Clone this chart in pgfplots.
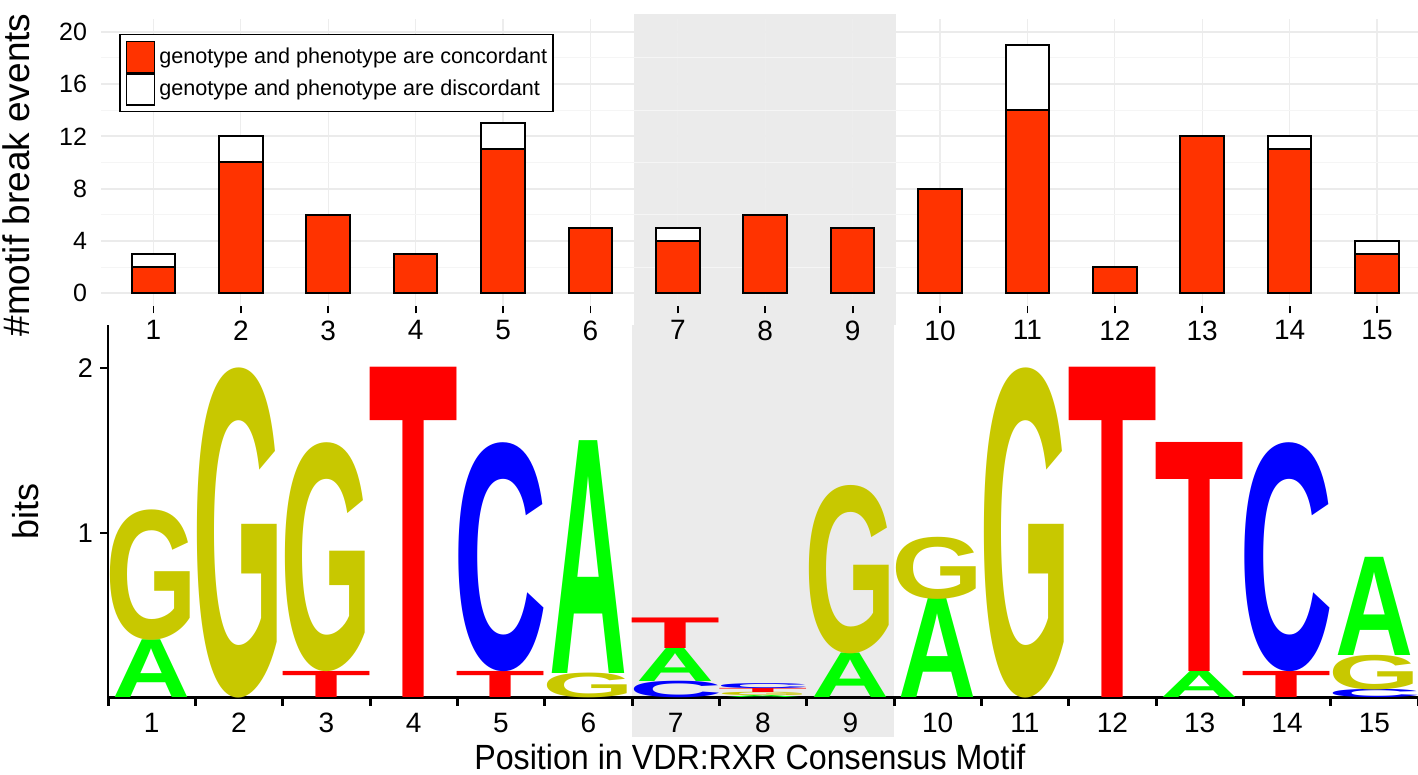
\documentclass[border=0pt]{standalone}
\usepackage{pgfplots}
\pgfplotsset{compat=1.18}
\usepackage{pgfplotstable}
\usepackage{graphicx}
\usepackage{fontspec}
\setmainfont{Liberation Sans}
\definecolor{barred}{HTML}{FF3300}
\definecolor{logoA}{HTML}{00FF00}
\definecolor{logoC}{HTML}{0000FF}
\definecolor{logoG}{HTML}{C8C800}
\definecolor{logoT}{HTML}{FF0000}
\definecolor{band}{HTML}{EBEBEB}
\def\LogoWA{39}\def\LogoWC{47}\def\LogoWG{46}\def\LogoWT{45}
\newcommand\LogoLetter[2]{%
  \pgfmathsetlengthmacro\LogoHdim{#2*82.52}%
  \pgfmathsetlengthmacro\LogoWdim{\csname LogoW#1\endcsname}%
  \resizebox*{\LogoWdim}{\LogoHdim}{\textcolor{logo#1}{\bfseries #1}}}
\def\LogoParse#1/#2\relax{\LogoLetter{#1}{#2}}
\pgfplotsset{boxlegend/.style={legend image code/.code={\draw[##1,line width=0.75pt] (0pt,-7.75pt) rectangle (14pt,7.75pt);}}}

% position, base of letter (bits), letter/height (bits)
\pgfplotstableread{
x y m
1 0 A/0.35
1 0.35 G/0.79
2 0 G/2.0
3 0 T/0.158
3 0.158 G/1.387
4 0 T/2.0
5 0 T/0.158
5 0.158 C/1.387
6 0 G/0.15
6 0.15 A/1.41
7 0 C/0.1
7 0.1 A/0.2
7 0.3 T/0.185
8 0 A/0.012
8 0.012 G/0.02
8 0.032 T/0.025
8 0.057 C/0.03
9 0 A/0.27
9 0.27 G/1.02
10 0 A/0.6
10 0.6 G/0.376
11 0 G/2.0
12 0 T/2.0
13 0 A/0.158
13 0.158 T/1.387
14 0 T/0.158
14 0.158 C/1.387
15 0 C/0.05
15 0.05 G/0.21
15 0.26 A/0.595
}\logodata

\begin{document}
\begin{tikzpicture}

% ---------------- top panel: break events ----------------
\begin{axis}[
  at={(50.5pt,234.3pt)}, anchor=south west,
  scale only axis, width=658.5pt, height=143.9pt,
  xmin=0.4, xmax=15.469, ymin=-1, ymax=21,
  clip=false, set layers=standard,
  /pgf/number format/assume math mode=true,
  axis line style={draw=none},
  xtick={1,...,15}, ytick={0,4,...,20}, minor ytick={2,6,...,18},
  xmajorgrids, ymajorgrids, yminorgrids,
  major x grid style={color=black!7, line width=0.6pt},
  major y grid style={color=black!8, line width=1pt},
  minor y grid style={color=black!4, line width=0.6pt},
  tick align=outside, tick pos=left,
  major tick length=3.5pt,
  ytick style={draw=none}, minor tick style={draw=none},
  xtick style={draw=black, line width=0.9pt},
  x tick label style={font=\fontsize{14}{16}\selectfont},
  y tick label style={font=\fontsize{12.5}{15}\selectfont},
  ylabel={\#motif break events},
  ylabel style={font=\fontsize{18.5}{20}\selectfont, at={(axis description cs:-0.064,0.4566)}, anchor=center},
  legend style={at={(axis description cs:0.0137,0.9465)}, anchor=north west,
    draw=black, line width=0.75pt, inner sep=3pt, fill=white,
    font=\fontsize{10.8}{12}\selectfont, nodes={inner sep=0pt, anchor=west},
    column sep=2pt, row sep=0pt},
  legend cell align=left, reverse legend,
]
\addplot[fill=band, draw=none, on layer=axis background, forget plot]
  coordinates {(6.5,-2.42) (9.5,-2.42) (9.5,21.35) (6.5,21.35)};
% total events (concordant + discordant)
\addplot[ybar, bar width=0.5, bar shift=0pt, fill=white, draw=black, line width=1pt, boxlegend]
  coordinates {(1,3) (2,12) (3,6) (4,3) (5,13) (6,5) (7,5) (8,6) (9,5) (10,8) (11,19) (12,2) (13,12) (14,12) (15,4)};
\addlegendentry{genotype and phenotype are discordant}
% concordant events
\addplot[ybar, bar width=0.5, bar shift=0pt, fill=barred, draw=black, line width=1pt, boxlegend]
  coordinates {(1,2) (2,10) (3,6) (4,3) (5,11) (6,5) (7,4) (8,6) (9,5) (10,8) (11,14) (12,2) (13,12) (14,11) (15,3)};
\addlegendentry{genotype and phenotype are concordant}
\end{axis}

% ---------------- bottom panel: sequence logo ----------------
\begin{axis}[
  at={(54pt,38.5pt)}, anchor=south west,
  scale only axis, width=655pt, height=186.5pt,
  xmin=0.5, xmax=15.5, ymin=0, ymax=2.26,
  clip=false, set layers=standard,
  /pgf/number format/assume math mode=true,
  axis x line*=bottom, axis y line*=left,
  x axis line style={line width=1.5pt, -},
  y axis line style={line width=1.2pt, -},
  tick align=outside, major tick length=4pt,
  xtick={0.5,1.5,...,15.5}, xticklabels={},
  xtick style={draw=black, line width=1.5pt},
  extra x ticks={1,...,15},
  extra x tick labels={1,2,3,4,5,6,7,8,9,10,11,12,13,14,15},
  extra x tick style={major tick length=0pt, xticklabel style={yshift=-4pt}},
  ytick={1,2}, ytick style={draw=black, line width=1pt},
  x tick label style={font=\fontsize{14}{16}\selectfont},
  y tick label style={font=\fontsize{13.5}{16}\selectfont},
  ylabel={bits},
  ylabel style={font=\fontsize{18}{20}\selectfont, at={(axis description cs:-0.0626,0.501)}, anchor=center},
  xlabel={\scalebox{0.92}[1]{Position in VDR:RXR Consensus Motif}},
  xlabel style={font=\fontsize{17.5}{20}\selectfont, at={(axis description cs:0.49,-0.158)}, anchor=center},
]
\addplot[fill=band, draw=none, on layer=axis background, forget plot]
  coordinates {(6.5,-0.236) (9.5,-0.236) (9.5,2.26) (6.5,2.26)};
\addplot[only marks, mark=none, point meta=explicit symbolic,
  nodes near coords={\expandafter\LogoParse\pgfplotspointmeta\relax},
  every node near coord/.append style={anchor=south, inner sep=0pt, outer sep=0pt},
] table[x=x, y=y, meta=m] {\logodata};
\end{axis}
\pgfresetboundingbox
\path[use as bounding box] (0,0) rectangle (709pt,387.5pt);
\end{tikzpicture}
\end{document}
